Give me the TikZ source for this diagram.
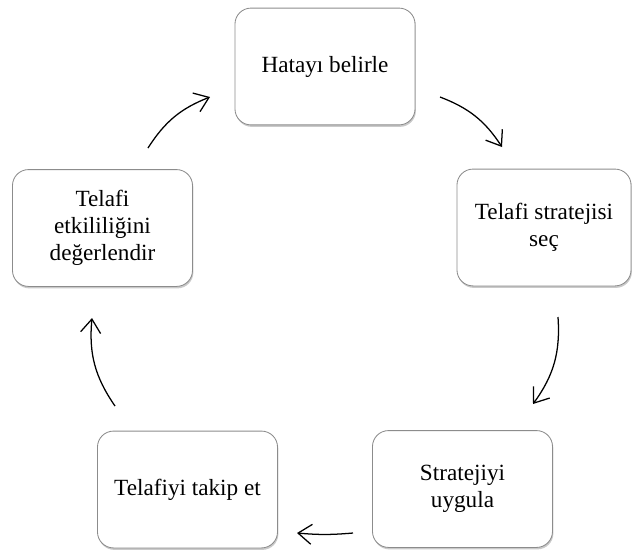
\documentclass[tikz,border=0pt]{standalone}
\usepackage{fontspec}
\setmainfont{Liberation Serif}
\usepackage{tikz}
\usetikzlibrary{arrows.meta, shadows}

\begin{document}
\begin{tikzpicture}[
    x=0.025cm, y=-0.025cm,
    stepbox/.style={rectangle, draw=black!45, fill=white, line width=0.6pt, rounded corners=0.4cm, minimum width=4.5cm, minimum height=2.92cm, align=center, font=\fontsize{16.5}{19}\selectfont, drop shadow={shadow xshift=0.6pt, shadow yshift=-1.4pt, opacity=0.35, fill=black!60}},
    line/.style={draw=black, line width=0.9pt, -{Straight Barb[length=3.4mm, width=5mm]}, bend left=18}
]
\useasboundingbox (0,0) rectangle (632,554);

\node[stepbox] (hata) at (325,66.5) {Hatay\i{} belirle};
\node[stepbox, minimum width=4.35cm] (sec) at (544,227.5) {Telafi stratejisi\\seç};
\node[stepbox] (uygula) at (462.5,489) {Stratejiyi\\uygula};
\node[stepbox] (takip) at (187.5,489.5) {Telafiyi takip et};
\node[stepbox] (deger) at (102.5,228) {Telafi\\etkililiğini\\değerlendir};

% arrow ends
\coordinate (a1s) at (148,148); \coordinate (a1e) at (210,97);
\coordinate (a2s) at (440,97);  \coordinate (a2e) at (502,147);
\coordinate (a3s) at (558,317); \coordinate (a3e) at (533,404);
\coordinate (a4s) at (353,533); \coordinate (a4e) at (297,533);
\coordinate (a5s) at (115,406); \coordinate (a5e) at (92,318);

\draw[line] (a1s) to (a1e);
\draw[line] (a2s) to (a2e);
\draw[line, bend left=20] (a3s) to (a3e);
\draw[line, bend left=5] (a4s) to (a4e);
\draw[line, bend left=20] (a5s) to (a5e);

\end{tikzpicture}
\end{document}
